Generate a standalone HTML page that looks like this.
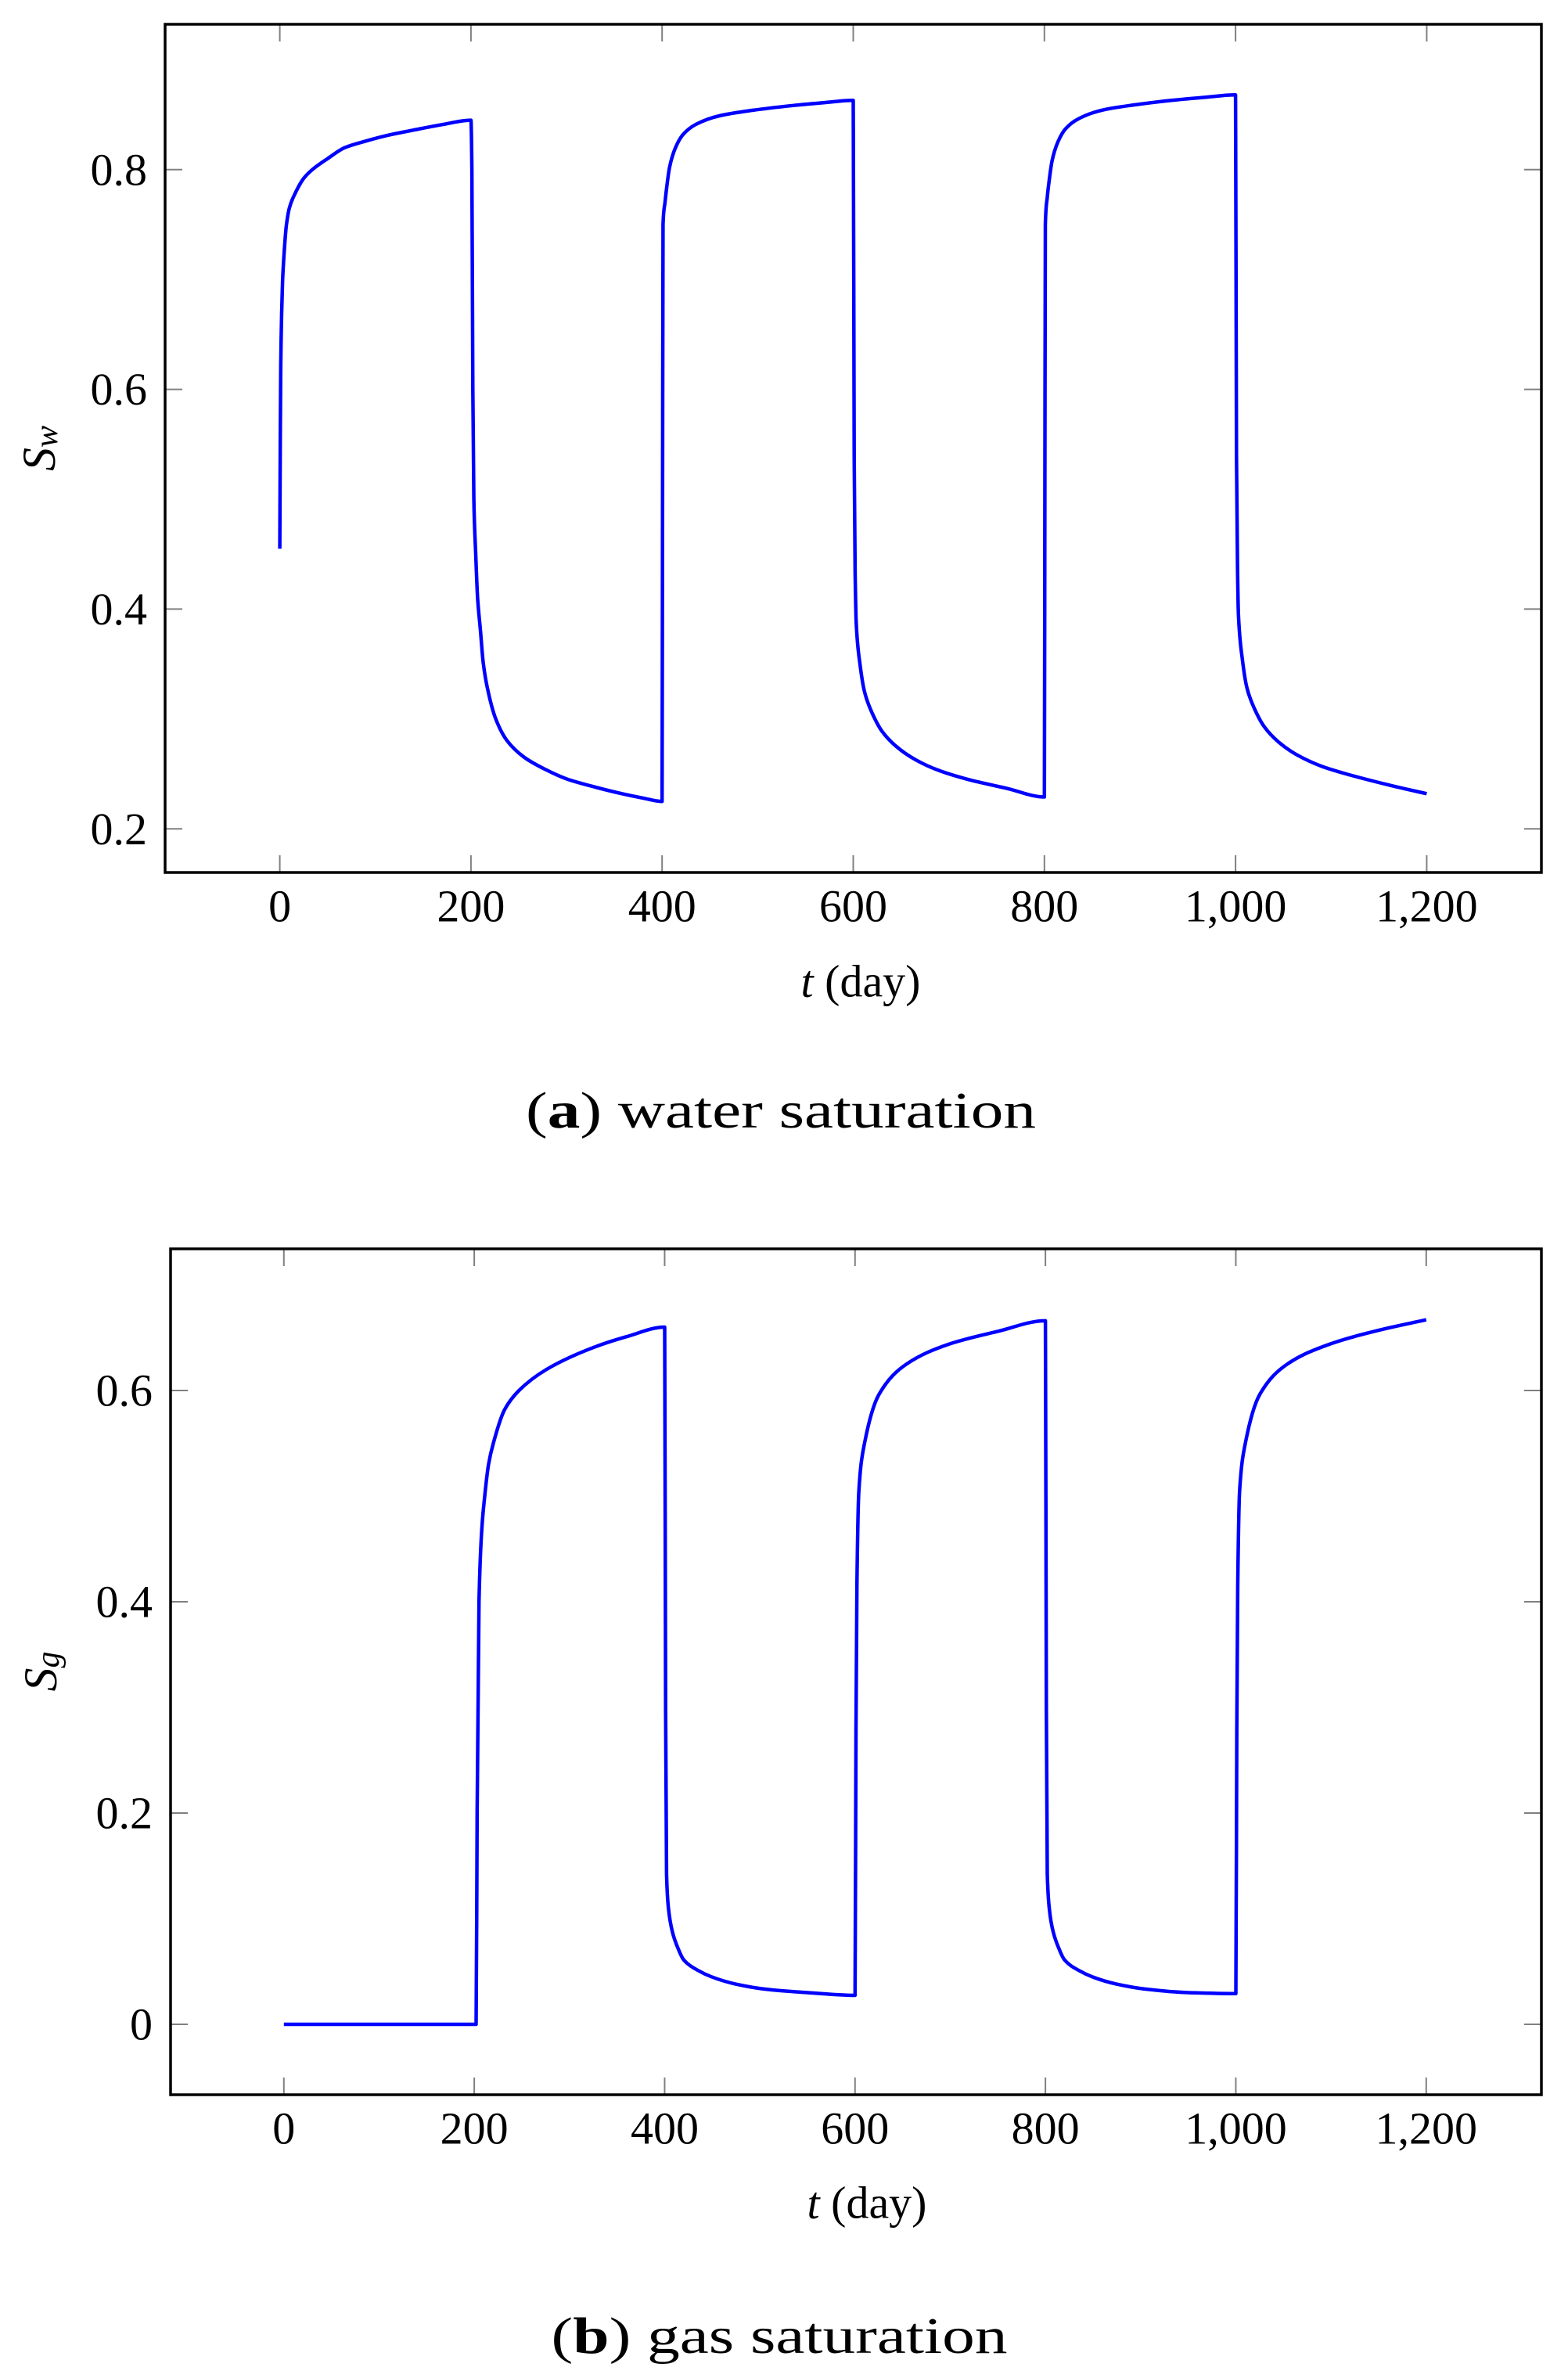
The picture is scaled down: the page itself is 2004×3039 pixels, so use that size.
<!DOCTYPE html>
<html><head><meta charset="utf-8"><style>
html,body{margin:0;padding:0;background:#fff;}
svg{display:block;}
text{font-family:"Liberation Serif",serif;fill:#000;}
</style></head><body>
<svg id="fig" width="2004" height="3039" viewBox="0 0 2004 3039" xmlns="http://www.w3.org/2000/svg">
<g id="chartA"></g>
<g id="chartB"></g>
<text x="998" y="1441" font-size="66" text-anchor="middle" textLength="652" lengthAdjust="spacingAndGlyphs">(<tspan font-weight="bold">a</tspan>) water saturation</text>
<text x="996" y="3007" font-size="66" text-anchor="middle" textLength="583" lengthAdjust="spacingAndGlyphs">(<tspan font-weight="bold">b</tspan>) gas saturation</text>
</svg>
<script>
const xTicks = [0, 200, 400, 600, 800, 1000, 1200];
const xTickLabels = ["0", "200", "400", "600", "800", "1,000", "1,200"];
const swTicks = [0.2, 0.4, 0.6, 0.8];
const swTickLabels = ["0.2", "0.4", "0.6", "0.8"];
const sgTicks = [0, 0.2, 0.4, 0.6];
const sgTickLabels = ["0", "0.2", "0.4", "0.6"];
const swT = [0,0.5,1,2,3,5,7,10,17,25,34,50,68,90,112,140,170,200,
  201,202,203,205,207,210,213,218,226,238,256,278,300,330,358,380,400,
  400.5,401,403,405,408,414,422,435,460,495,533,570,600,
  601,602,603,607,612,620,630,645,665,690,720,760,800,
  800.5,801,803,805,808,814,822,835,860,895,933,970,1000,
  1001,1002,1003,1007,1012,1020,1030,1045,1065,1090,1120,1160,1200];
const swV = [0.455,0.55,0.62,0.67,0.70,0.73,0.75,0.765,0.78,0.792,0.80,0.81,0.82,0.826,0.831,0.836,0.841,0.845,
  0.80,0.60,0.50,0.45,0.41,0.38,0.35,0.325,0.30,0.28,0.265,0.254,0.2455,0.238,0.232,0.228,0.225,
  0.5,0.75,0.77,0.785,0.803,0.82,0.832,0.841,0.849,0.854,0.858,0.861,0.863,
  0.54,0.433,0.389,0.35,0.324,0.305,0.289,0.275,0.263,0.253,0.245,0.237,0.229,
  0.5,0.75,0.775,0.79,0.808,0.825,0.837,0.846,0.854,0.859,0.863,0.866,0.868,
  0.54,0.44,0.395,0.355,0.328,0.309,0.293,0.279,0.267,0.257,0.249,0.24,0.232];
const sgT = [0,202,203,205,208,211,215,220,232,247,276,326,360,400,
  401,402,404,408,414,420,435,449,475,508,550,600,
  601,602,604,610,625,654,699,750,800,
  801,802,804,808,814,820,835,849,875,908,950,1000,
  1001,1002,1004,1010,1025,1054,1099,1150,1200];
const sgV = [0,0,0.2,0.4,0.47,0.5,0.53,0.55,0.582,0.6,0.62,0.641,0.651,0.66,
  0.3,0.142,0.11,0.088,0.072,0.061,0.051,0.045,0.038,0.033,0.03,0.0274,
  0.279,0.415,0.505,0.55,0.596,0.625,0.644,0.656,0.666,
  0.3,0.142,0.11,0.088,0.072,0.061,0.051,0.045,0.038,0.033,0.03,0.029,
  0.279,0.415,0.505,0.55,0.596,0.625,0.644,0.657,0.667];

const NS = "http://www.w3.org/2000/svg";
function mk(tag, attrs, parent) {
  const e = document.createElementNS(NS, tag);
  for (const k in attrs) e.setAttribute(k, attrs[k]);
  parent.appendChild(e);
  return e;
}
// monotone cubic path through screen points (no overshoot)
function monoPath(px, py) {
  const n = px.length;
  const d = [], m = [];
  for (let i = 0; i < n - 1; i++) d.push((py[i+1]-py[i]) / Math.max(px[i+1]-px[i], 1e-6));
  m[0] = d[0]; m[n-1] = d[n-2];
  for (let i = 1; i < n - 1; i++) {
    if (d[i-1] * d[i] <= 0) m[i] = 0;
    else { const h0 = px[i]-px[i-1], h1 = px[i+1]-px[i];
      const w1 = 2*h1 + h0, w2 = h1 + 2*h0;
      m[i] = (w1 + w2) / (w1 / d[i-1] + w2 / d[i]); }
  }
  let s = 'M' + px[0].toFixed(1) + ',' + py[0].toFixed(1);
  for (let i = 0; i < n - 1; i++) {
    const h = (px[i+1]-px[i]) / 3;
    s += ' C' + (px[i]+h).toFixed(1) + ',' + (py[i]+m[i]*h).toFixed(1) + ' ' +
      (px[i+1]-h).toFixed(1) + ',' + (py[i+1]-m[i+1]*h).toFixed(1) + ' ' +
      px[i+1].toFixed(1) + ',' + py[i+1].toFixed(1);
  }
  return s;
}
function drawChart(g, cfg) {
  const sx = v => cfg.L + (v - cfg.xmin) / (cfg.xmax - cfg.xmin) * (cfg.R - cfg.L);
  const sy = v => cfg.B - (v - cfg.ymin) / (cfg.ymax - cfg.ymin) * (cfg.B - cfg.T);
  xTicks.forEach((t, i) => {
    const x = sx(t);
    const a = mk('line', {x1:x, x2:x, y1:cfg.B, y2:cfg.B-22, stroke:'#808080', 'stroke-width':2}, g);
    
    
    const b = mk('line', {x1:x, x2:x, y1:cfg.T, y2:cfg.T+22, stroke:'#808080', 'stroke-width':2}, g);
    
    
    const tx = mk('text', {x:x, y:cfg.xLabY, 'font-size':58, 'text-anchor':'middle', 'dominant-baseline':'central'}, g);
    tx.textContent = xTickLabels[i];
    
    
  });
  cfg.yt.forEach((v, i) => {
    const y = sy(v);
    const a = mk('line', {x1:cfg.L, x2:cfg.L+22, y1:y, y2:y, stroke:'#808080', 'stroke-width':2}, g);
    
    
    const b = mk('line', {x1:cfg.R, x2:cfg.R-22, y1:y, y2:y, stroke:'#808080', 'stroke-width':2}, g);
    
    
    const tx = mk('text', {x:cfg.yLabX, y:y, 'font-size':58, 'text-anchor':'end', 'dominant-baseline':'central'}, g);
    tx.textContent = cfg.ytl[i];
    
    
  });
  const px = cfg.t.map(sx), py = cfg.v.map(sy);
  const pl = mk('path', {d:monoPath(px, py), fill:'none', stroke:'#0000ff', 'stroke-width':4.5, 'stroke-linejoin':'round'}, g);
  
  
  const fr = mk('rect', {x:cfg.L, y:cfg.T, width:cfg.R-cfg.L, height:cfg.B-cfg.T, fill:'none', stroke:'#000', 'stroke-width':3.5}, g);
  
  
  const xl = mk('text', {x:cfg.xTitleX, y:cfg.xTitleY, 'font-size':58, 'text-anchor':'middle', 'dominant-baseline':'central'}, g);
  xl.innerHTML = '<tspan font-style="italic">t</tspan> (day)';
  
  
  const yl = mk('text', {x:0, y:0, 'font-size':60, 'text-anchor':'middle', 'dominant-baseline':'central', transform:'translate(' + cfg.yTitleX + ',' + cfg.yTitleY + ') rotate(-90)'}, g);
  yl.innerHTML = '<tspan font-style="italic">S</tspan><tspan font-style="italic" font-size="42" dy="10">' + cfg.sub + '</tspan>';
  
  
}
drawChart(document.getElementById('chartA'), {L:211, R:1970, T:31, B:1115, xmin:-120, xmax:1320, ymin:0.1603, ymax:0.9323,
  yt:swTicks, ytl:swTickLabels, t:swT, v:swV, xLabY:1158, yLabX:188, xTitleX:1100, xTitleY:1254, yTitleX:50, yTitleY:573, sub:'w', lineName:'sw-line'});
drawChart(document.getElementById('chartB'), {L:218, R:1970, T:1596, B:2677, xmin:-119, xmax:1321, ymin:-0.0667, ymax:0.7341,
  yt:sgTicks, ytl:sgTickLabels, t:sgT, v:sgV, xLabY:2720, yLabX:195, xTitleX:1108, xTitleY:2815, yTitleX:52, yTitleY:2136, sub:'g', lineName:'sg-line'});
</script>
</body></html>
